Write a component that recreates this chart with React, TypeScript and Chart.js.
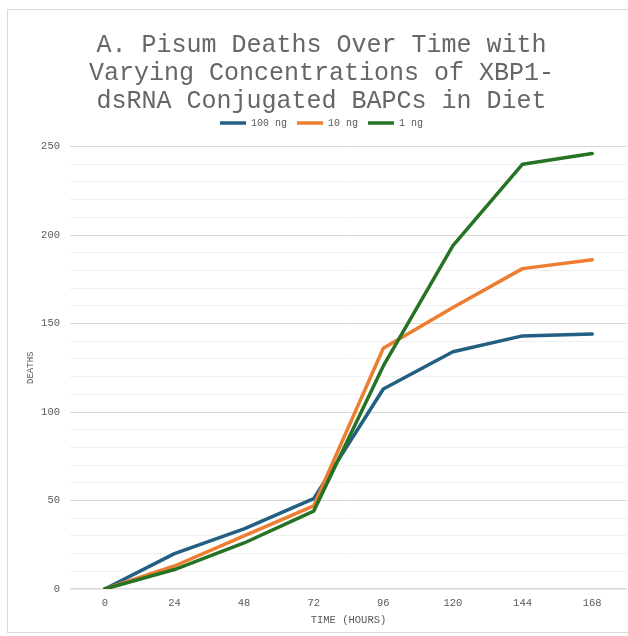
import React, { useEffect, useRef } from "react";
import { Chart, registerables } from "chart.js";

Chart.register(...registerables);

const hours = ["0", "24", "48", "72", "96", "120", "144", "168"];
const deaths100ng = [0, 20, 34, 51, 113, 134, 143, 144];
const deaths10ng = [0, 13, 30, 47, 136, 159, 181, 186];
const deaths1ng = [0, 11, 26, 44, 126, 194, 240, 246];
const seriesNames = ["100 ng", "10 ng", "1 ng"];
const titleLines = [
  "A. Pisum Deaths Over Time with",
  "Varying Concentrations of XBP1-",
  "dsRNA Conjugated BAPCs in Diet",
];
const xTitle = "TIME (HOURS)";
const yTitle = "DEATHS";

const MONO = "'Liberation Mono', 'DejaVu Sans Mono', monospace";
const TEXT = "#595959";

export default function App() {
  const ref = useRef<HTMLCanvasElement | null>(null);

  useEffect(() => {
    document.body.style.margin = "0";
    const canvas = ref.current;
    if (!canvas) return;

    const legendGap = {
      id: "legendGap",
      beforeLayout(chart: any) {
        const lg = chart.legend;
        if (lg && !lg.__patched) {
          lg.__patched = true;
          const origFit = lg.fit;
          lg.fit = function (...args: any[]) {
            origFit.apply(this, args);
            this.height += 8.5;
          };
        }
      },
    };

    const mk = (label: string, data: number[], color: string, order: number) => ({
      label,
      data,
      borderColor: color,
      backgroundColor: color,
      borderWidth: 3.5,
      borderCapStyle: "round" as const,
      borderJoinStyle: "round" as const,
      pointRadius: 0,
      pointHoverRadius: 0,
      tension: 0,
      fill: false,
      order,
    });

    const chart = new Chart(canvas, {
      type: "line",
      data: {
        labels: hours,
        datasets: [
          mk(seriesNames[0], deaths100ng, "#235f82", 3),
          mk(seriesNames[1], deaths10ng, "#ed7d31", 2),
          mk(seriesNames[2], deaths1ng, "#267326", 1),
        ],
      },
      options: {
        animation: false,
        responsive: false,
        maintainAspectRatio: false,
        devicePixelRatio: 1,
        layout: { padding: { left: 16, right: 1, top: 0, bottom: 0 } },
        plugins: {
          title: {
            display: true,
            text: titleLines,
            color: "#666666",
            font: { family: MONO, size: 25, weight: "normal", lineHeight: 1.12 },
            padding: { top: 31, bottom: -7 },
          },
          legend: {
            display: true,
            position: "top",
            labels: {
              color: TEXT,
              font: { family: MONO, size: 10 },
              usePointStyle: true,
              pointStyle: "line",
              pointStyleWidth: 26,
              padding: 10,
              sort: (a: any, b: any) => a.datasetIndex - b.datasetIndex,
            },
          },
          tooltip: { enabled: false },
        },
        scales: {
          x: {
            type: "category",
            offset: true,
            grid: { display: false, drawTicks: false },
            border: { display: false },
            ticks: {
              color: TEXT,
              font: { family: MONO, size: 10.5 },
              padding: 8,
              maxRotation: 0,
            },
            title: {
              display: true,
              text: xTitle,
              color: TEXT,
              font: { family: MONO, size: 10.5 },
              padding: { top: 0, bottom: 9 },
            },
            afterFit: (s: any) => {
              s.height = 47;
            },
          },
          y: {
            min: 0,
            max: 250,
            grid: {
              drawTicks: false,
              color: (c: any) => (c.tick && c.tick.value % 50 === 0 ? "#d9d9d9" : "#f0f0f0"),
              lineWidth: (c: any) => (c.tick && c.tick.value === 0 ? 1.5 : 1),
            },
            border: { display: false },
            ticks: {
              stepSize: 10,
              color: TEXT,
              font: { family: MONO, size: 10.5 },
              padding: 10,
              callback: (v: any) => (Number(v) % 50 === 0 ? String(v) : ""),
            },
            title: {
              display: true,
              text: yTitle,
              color: TEXT,
              font: { family: MONO, size: 9 },
              padding: { top: 9, bottom: 0 },
            },
            afterFit: (s: any) => {
              s.width = 54;
            },
          },
        },
      },
      plugins: [legendGap],
    } as any);

    return () => chart.destroy();
  }, []);

  return (
    <div style={{ position: "relative", width: 628, height: 636, overflow: "hidden", background: "#fff" }}>
      <canvas ref={ref} width={628} height={636} style={{ position: "absolute", left: 0, top: 0 }} />
      <div
        style={{
          position: "absolute",
          left: 7,
          top: 9,
          width: 700,
          height: 622,
          border: "1px solid #d9d9d9",
          pointerEvents: "none",
        }}
      />
    </div>
  );
}
